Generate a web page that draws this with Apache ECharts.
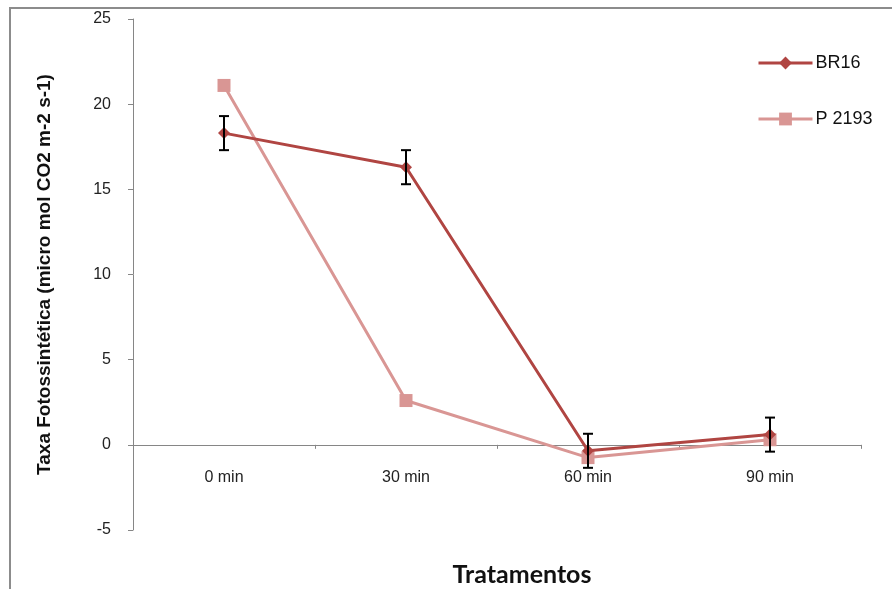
<!DOCTYPE html>
<html>
<head>
<meta charset="utf-8">
<script src="https://cdn.jsdelivr.net/npm/echarts@6/dist/echarts.min.js"></script>
<style>
  html, body { margin: 0; padding: 0; background: #fff; }
  #chart { width: 892px; height: 589px; }
</style>
</head>
<body>
<div id="chart"></div>
<script>
// Photosynthetic rate per treatment time
const categories = ['0 min', '30 min', '60 min', '90 min'];
const br16 = [18.3, 16.3, -0.35, 0.6];
const br16Err = [1.0, 1.0, 1.0, 1.0];
const p2193 = [21.1, 2.6, -0.75, 0.3];
const yTicks = { min: -5, max: 25, step: 5 };

const colBR = '#B04542';
const colP = '#D99694';

const gridTop = 19, gridBottom = 59, chartH = 589;
const plotH = chartH - gridTop - gridBottom;
// shift the category axis up so it sits on the zero line
const zeroOffset = -plotH * (0 - yTicks.min) / (yTicks.max - yTicks.min);

const errData = categories.map((c, i) => [i, br16[i] - br16Err[i], br16[i] + br16Err[i]]);
const font = '"Liberation Sans", Arial, sans-serif';

const chart = echarts.init(document.getElementById('chart'), null, { renderer: 'canvas' });
chart.setOption({
  animation: false,
  backgroundColor: '#fff',
  grid: { left: 133, right: 31, top: gridTop, bottom: gridBottom, containLabel: false },
  graphic: [
    {
      type: 'rect', shape: { x: 10, y: 8, width: 900, height: 600 },
      style: { fill: 'none', stroke: '#8c8c8c', lineWidth: 2 }, z: 0, silent: true
    },
    {
      type: 'text', x: 522, y: 575,
      style: { text: 'Tratamentos', font: 'bold 25px Lato, "Open Sans", sans-serif', fill: '#111',
               textAlign: 'center', textVerticalAlign: 'middle' }
    }
  ],
  legend: {
    orient: 'vertical', left: 757, top: 54, itemGap: 38, padding: 0,
    itemWidth: 54, itemHeight: 16,
    lineStyle: { width: 3 },
    textStyle: { fontFamily: font, fontSize: 18, color: '#111', padding: [0, 0, 0, -2] },
    data: ['BR16', 'P 2193']
  },
  xAxis: {
    type: 'category', data: categories, boundaryGap: true,
    offset: zeroOffset,
    axisLine: { onZero: false, lineStyle: { color: '#868686', width: 1 } },
    axisTick: { show: true, inside: false, length: 4, lineStyle: { color: '#868686' } },
    axisLabel: { margin: 25, fontFamily: font, fontSize: 16, color: '#222' },
    splitLine: { show: false }
  },
  yAxis: {
    type: 'value', min: yTicks.min, max: yTicks.max, interval: yTicks.step,
    name: 'Taxa Fotossintética (micro mol CO2 m-2 s-1)',
    nameLocation: 'middle', nameGap: 79, nameRotate: 90,
    nameTextStyle: { fontFamily: font, fontSize: 19, fontWeight: 'bold', color: '#111' },
    axisLine: { show: true, lineStyle: { color: '#868686', width: 1 } },
    axisTick: { show: true, inside: false, length: 5, lineStyle: { color: '#868686' } },
    axisLabel: { margin: 22, fontFamily: font, fontSize: 16, color: '#222' },
    splitLine: { show: false }
  },
  series: [
    {
      name: 'P 2193', type: 'line', data: p2193,
      symbol: 'rect', symbolSize: 13,
      lineStyle: { color: colP, width: 3 },
      itemStyle: { color: colP },
      z: 2
    },
    {
      name: 'BR16', type: 'line', data: br16,
      symbol: 'diamond', symbolSize: 12,
      lineStyle: { color: colBR, width: 3 },
      itemStyle: { color: colBR },
      z: 3
    },
    {
      name: 'BR16 erro', type: 'custom', data: errData, z: 4,
      renderItem: function (params, api) {
        const x = api.value(0);
        const lo = api.coord([x, api.value(1)]);
        const hi = api.coord([x, api.value(2)]);
        const hw = 5;
        const st = { stroke: '#000', lineWidth: 2, fill: 'none' };
        return {
          type: 'group',
          children: [
            { type: 'line', shape: { x1: hi[0], y1: hi[1], x2: lo[0], y2: lo[1] }, style: st },
            { type: 'line', shape: { x1: hi[0] - hw, y1: hi[1], x2: hi[0] + hw, y2: hi[1] }, style: st },
            { type: 'line', shape: { x1: lo[0] - hw, y1: lo[1], x2: lo[0] + hw, y2: lo[1] }, style: st }
          ]
        };
      }
    }
  ]
});
</script>
</body>
</html>
